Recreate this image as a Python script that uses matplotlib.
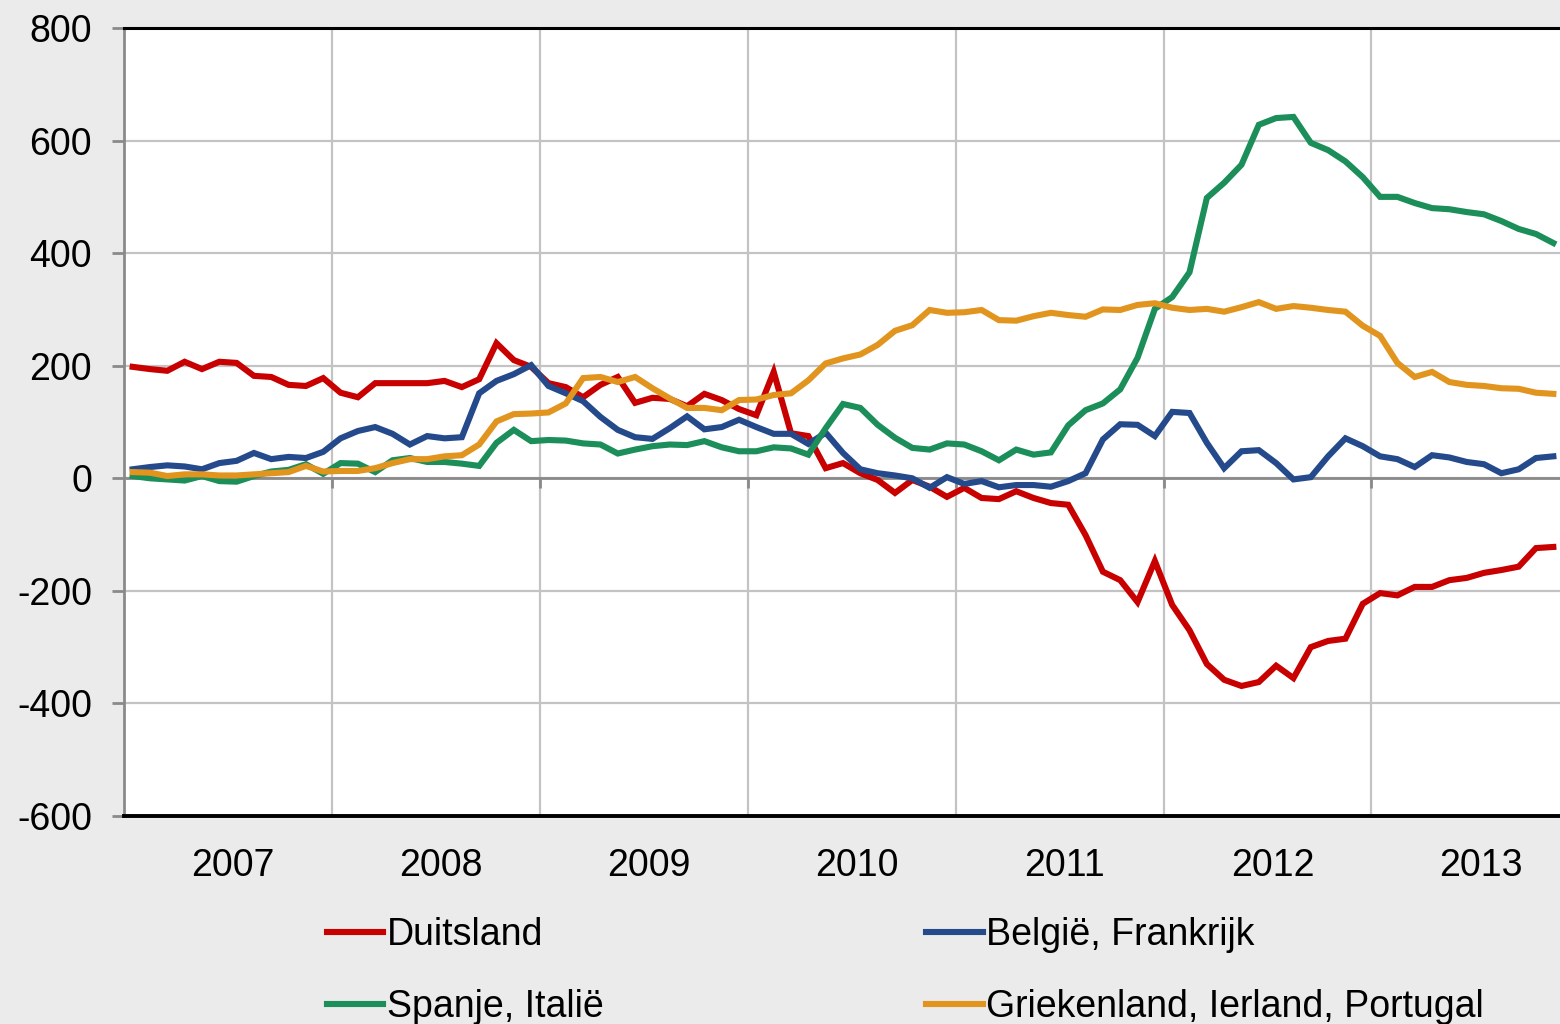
#!/usr/bin/env python3
"""Target2-achtige saldi per landengroep, maandelijks 2007-2013."""

import matplotlib
matplotlib.use("Agg")
import matplotlib.pyplot as plt
from matplotlib.transforms import blended_transform_factory
import numpy as np

plt.rcParams["font.family"] = ["Liberation Sans", "DejaVu Sans"]
plt.rcParams["axes.unicode_minus"] = False

YEARS = ["2007", "2008", "2009", "2010", "2011", "2012", "2013"]

duitsland = [198, 194, 191, 207, 194, 207, 205, 182, 180, 166, 164, 178,
             152, 144, 169, 169, 169, 169, 173, 162, 176, 240, 210, 198,
             169, 162, 144, 166, 180, 134, 143, 141, 128, 150, 139, 123,
             112, 189, 80, 75, 18, 27, 9, -3, -26, -3, -15, -33,
             -17, -35, -37, -23, -35, -44, -47, -101, -166, -181, -220, -147,
             -225, -270, -330, -358, -369, -362, -333, -355, -300, -289, -285, -223,
             -204, -208, -193, -193, -181, -177, -168, -163, -157, -124, -122]

belgie_frankrijk = [16, 20, 23, 21, 16, 27, 31, 45, 34, 38, 36, 47,
                    71, 84, 91, 79, 60, 75, 71, 73, 151, 173, 185, 201,
                    164, 151, 137, 109, 86, 73, 70, 89, 110, 87, 91, 104,
                    91, 79, 79, 61, 81, 45, 16, 9, 5, 0, -17, 2,
                    -10, -5, -16, -12, -12, -15, -5, 9, 69, 96, 95, 75,
                    118, 116, 63, 18, 48, 50, 27, -2, 2, 39, 71, 57,
                    39, 34, 20, 41, 37, 29, 25, 9, 16, 36, 39]

spanje_italie = [4, 0, -2, -4, 4, -5, -6, 4, 12, 15, 25, 8,
                 27, 26, 11, 32, 36, 29, 29, 26, 22, 63, 86, 66,
                 68, 67, 62, 60, 44, 51, 57, 60, 59, 66, 55, 48,
                 48, 55, 53, 42, 89, 132, 125, 95, 72, 54, 51, 62,
                 60, 48, 32, 51, 42, 46, 94, 121, 133, 158, 214, 301,
                 322, 366, 498, 525, 557, 628, 640, 642, 596, 583, 563, 535,
                 500, 500, 489, 480, 478, 473, 469, 457, 443, 434, 418]

gip = [11, 10, 4, 7, 7, 5, 5, 7, 9, 11, 22, 12,
       13, 13, 18, 27, 34, 34, 39, 41, 60, 101, 114, 115,
       117, 133, 178, 180, 171, 180, 160, 142, 125, 125, 121, 139,
       140, 148, 151, 174, 204, 213, 220, 237, 262, 272, 299, 294,
       295, 299, 281, 280, 288, 294, 290, 287, 300, 299, 308, 311,
       303, 299, 301, 296, 304, 313, 301, 306, 303, 299, 296, 271,
       253, 205, 180, 189, 171, 166, 164, 160, 159, 152, 150]

SERIES = [
    ("Duitsland", duitsland, "#c80000"),
    ("België, Frankrijk", belgie_frankrijk, "#244a8b"),
    ("Spanje, Italië", spanje_italie, "#1b8e5a"),
    ("Griekenland, Ierland, Portugal", gip, "#e2951e"),
]

BG = "#ebebeb"
GRID = "#c3c3c3"
AXGRAY = "#8a8a8a"
FS = 27


def main():
    W, H = 1560, 1024
    fig = plt.figure(figsize=(W / 100, H / 100), dpi=100, facecolor=BG)
    ax = fig.add_axes([124 / W, 1 - 816 / H, 1438 / W, 788 / H])
    ax.set_facecolor("white")

    n = len(duitsland)
    x = np.arange(n) + 0.5
    handles = []
    for label, vals, color in SERIES:
        h, = ax.plot(x, vals, color=color, lw=4.4, solid_joinstyle="miter",
                     label=label, zorder=3)
        handles.append(h)

    ax.set_xlim(0, n)
    ax.set_ylim(-600, 800)
    ax.set_yticks(np.arange(-600, 801, 200))
    ax.set_xticks(np.arange(12, n, 12))
    ax.grid(True, color=GRID, lw=1.6, zorder=0)
    ax.set_axisbelow(True)

    ax.spines["right"].set_visible(False)
    ax.spines["top"].set_color("black")
    ax.spines["top"].set_linewidth(2.2)
    ax.spines["left"].set_color(AXGRAY)
    ax.spines["left"].set_linewidth(2)
    ax.spines["bottom"].set_position(("data", 0))
    ax.spines["bottom"].set_color(AXGRAY)
    ax.spines["bottom"].set_linewidth(2)
    ax.axhline(-600, color="black", lw=2.8, clip_on=False, zorder=4)

    ax.tick_params(axis="y", length=9, width=2, color=AXGRAY, direction="out",
                   labelsize=FS, pad=14)
    ax.tick_params(axis="x", length=7, width=2, color=AXGRAY, direction="out",
                   labelbottom=False)

    tr = blended_transform_factory(ax.transData, fig.transFigure)
    for k, yr in enumerate(YEARS):
        ax.text(12 * k + 6.3, 1 - 866 / H, yr, transform=tr, ha="center",
                va="center", fontsize=FS)

    # column-major fill: order so rows read Duitsland | België, Spanje | GIP
    order = [0, 2, 1, 3]
    fig.legend(handles=[handles[i] for i in order], loc="upper left", ncol=2,
               bbox_to_anchor=(327 / W, 1 - 917 / H), frameon=False,
               fontsize=FS, handlelength=1.5, handletextpad=0.1,
               columnspacing=8.6, labelspacing=0.96, borderpad=0,
               borderaxespad=0)

    fig.savefig("out.png", dpi=100, facecolor=BG)
    plt.close(fig)


if __name__ == "__main__":
    main()
